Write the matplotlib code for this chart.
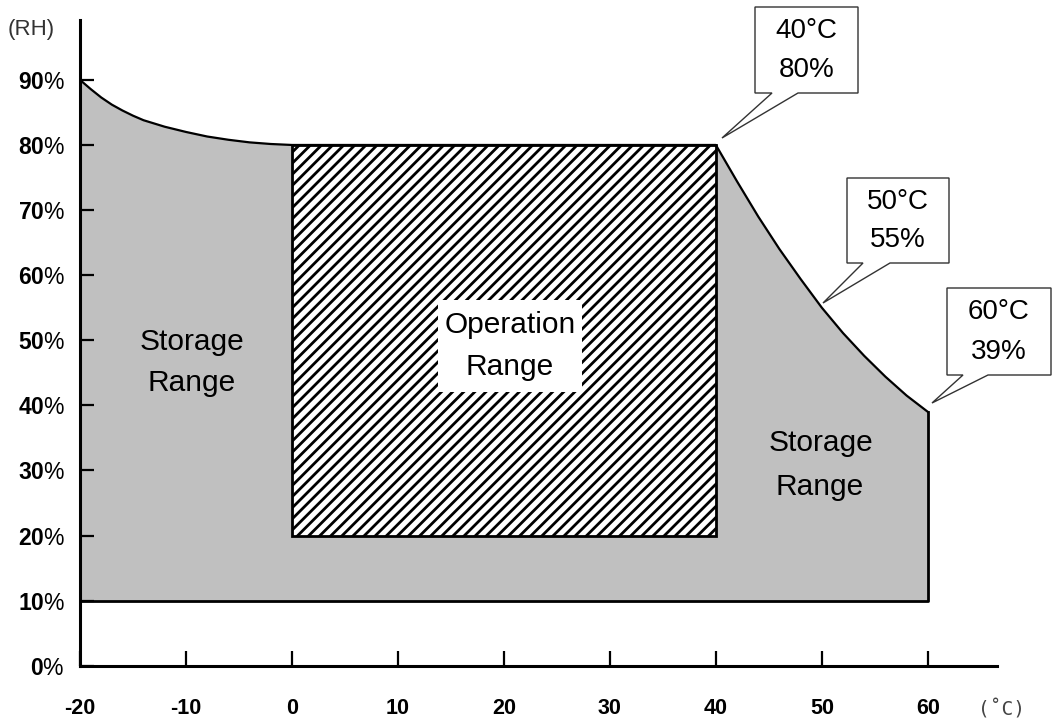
import matplotlib
matplotlib.use("Agg")
import matplotlib.pyplot as plt
from matplotlib.patches import Polygon, Rectangle

# ---------------- data ----------------
temp_left = [-20, -19, -18, -17, -16, -15, -14, -12, -10, -8, -6, -4, -2, 0]
rh_left = [90, 88.6, 87.3, 86.2, 85.3, 84.5, 83.8, 82.8, 82.0, 81.3, 80.8, 80.4, 80.15, 80]
temp_right = [40, 42, 44, 46, 48, 50, 52, 54, 56, 58, 60]
rh_right = [80, 74.4, 69.0, 64.0, 59.4, 55.0, 51.1, 47.6, 44.4, 41.5, 39]
storage_min_rh = 10
op_temp = [0, 40]
op_rh = [20, 80]
x_ticks = [-20, -10, 0, 10, 20, 30, 40, 50, 60]
y_ticks = [0, 10, 20, 30, 40, 50, 60, 70, 80, 90]
callout_temp = ["40°C", "50°C", "60°C"]
callout_rh = ["80%", "55%", "39%"]

# ---------------- style ----------------
plt.rcParams["font.family"] = ["Liberation Sans", "DejaVu Sans"]
plt.rcParams["mathtext.fontset"] = "custom"
plt.rcParams["mathtext.bf"] = "Liberation Sans:bold"
plt.rcParams["mathtext.rm"] = "Liberation Sans"
plt.rcParams["hatch.linewidth"] = 2.0

W, H = 1054, 727
fig = plt.figure(figsize=(W / 100, H / 100), dpi=100)
ax = fig.add_axes([80 / W, 1 - 665.7 / H, (996.7 - 80) / W, (665.7 - 20) / H])
ax.set_xlim(-20, 66.5)
ax.set_ylim(0, 99.2)

def px(x, y):
    return (x / W, 1 - y / H)

# storage area (grey)
curve_t = temp_left + temp_right
curve_rh = rh_left + rh_right
poly_pts = [(x_ticks[0], storage_min_rh)] + list(zip(curve_t, curve_rh)) + [(temp_right[-1], storage_min_rh)]
ax.add_patch(Polygon(poly_pts, closed=True, facecolor="#c0c0c0", edgecolor="none", zorder=1))
ax.plot(curve_t, curve_rh, color="black", lw=1.6, zorder=3, solid_joinstyle="round")
ax.plot([x_ticks[0], temp_right[-1], temp_right[-1]],
        [storage_min_rh, storage_min_rh, rh_right[-1]], color="black", lw=2.0, zorder=3)

# operation range (hatched)
ax.add_patch(Rectangle((op_temp[0], op_rh[0]), op_temp[1] - op_temp[0], op_rh[1] - op_rh[0],
                       facecolor="white", edgecolor="black", hatch="///", lw=2.0, zorder=2))

# white box behind "Operation Range"
fig.patches.append(Rectangle(px(438, 392), 144 / W, 92 / H, transform=fig.transFigure,
                             facecolor="white", edgecolor="none", zorder=4))
fig.text(*px(510, 325), "Operation", ha="center", va="center", fontsize=21.5, zorder=5)
fig.text(*px(510, 367), "Range", ha="center", va="center", fontsize=21.5, zorder=5)

ssize = 21.5
fig.text(*px(192, 342), "Storage", ha="center", va="center", fontsize=ssize)
fig.text(*px(192, 383), "Range", ha="center", va="center", fontsize=ssize)
fig.text(*px(821, 443), "Storage", ha="center", va="center", fontsize=ssize)
fig.text(*px(820, 487), "Range", ha="center", va="center", fontsize=ssize)

# callouts
boxes = [
    dict(x0=755, y0=7, x1=858, y1=93, t0=772, t1=798, tip=(722, 138)),
    dict(x0=847, y0=178, x1=949, y1=263, t0=863, t1=890, tip=(823, 303)),
    dict(x0=947, y0=288, x1=1051, y1=375, t0=963, t1=988, tip=(932, 403)),
]
for b, ttxt, rtxt in zip(boxes, callout_temp, callout_rh):
    verts = [(b["x0"], b["y0"]), (b["x1"], b["y0"]), (b["x1"], b["y1"]), (b["t1"], b["y1"]),
             b["tip"], (b["t0"], b["y1"]), (b["x0"], b["y1"])]
    verts = [px(*v) for v in verts]
    fig.patches.append(Polygon(verts, closed=True, transform=fig.transFigure,
                               facecolor="white", edgecolor="#333333", lw=1.0, zorder=6))
    cx = (b["x0"] + b["x1"]) / 2
    h = b["y1"] - b["y0"]
    fig.text(*px(cx, b["y0"] + h * 0.28), ttxt, ha="center", va="center", fontsize=20, zorder=7)
    fig.text(*px(cx, b["y0"] + h * 0.73), rtxt, ha="center", va="center", fontsize=20, zorder=7)

# axes styling
for s in ["top", "right"]:
    ax.spines[s].set_visible(False)
for s in ["left", "bottom"]:
    ax.spines[s].set_linewidth(2.2)
    ax.spines[s].set_zorder(8)

ax.set_xticks(x_ticks)
ax.set_xticklabels([str(v) for v in x_ticks], fontweight="bold", fontsize=15.5)
ax.set_yticks(y_ticks)
ax.set_yticklabels([r"$\mathbf{%d}$%%" % v for v in y_ticks], fontsize=16.5)
ax.tick_params(axis="x", direction="in", length=11, width=1.6, pad=23)
ax.tick_params(axis="y", direction="in", length=10, width=1.6, pad=11)

fig.text(*px(31, 29), "(RH)", ha="center", va="center", fontsize=16, color="#333333")
fig.text(*px(1001, 710), "(˚C)", ha="center", va="center", fontsize=14, color="#444444",
         family="DejaVu Sans Mono")

fig.savefig("out.png", dpi=100)
